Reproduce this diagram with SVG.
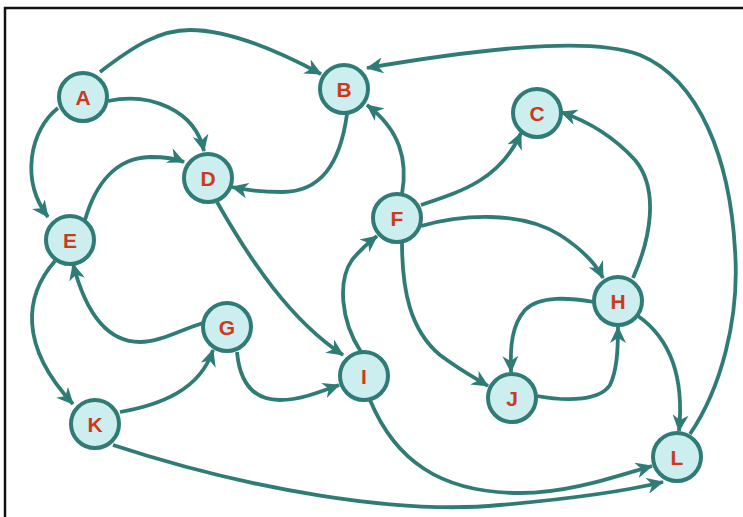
<svg xmlns="http://www.w3.org/2000/svg" width="743" height="517" viewBox="0 0 743 517">
<style>
.e{fill:none;stroke:#2f7c77;stroke-width:3.8;marker-end:url(#ah)}
.n circle{fill:#cdeeee;stroke:#2f7c77;stroke-width:4}
.n text{font-family:"Liberation Sans",Arial,sans-serif;font-weight:bold;font-size:21px;fill:#cc3a1e;text-anchor:middle;dominant-baseline:central}
</style>
<defs>
<marker id="ah" markerUnits="userSpaceOnUse" markerWidth="18" markerHeight="16" refX="16" refY="8" orient="auto">
<path d="M0,0 L17,8 L0,16 L5,8 z" fill="#2f7c77"/>
</marker>
</defs>
<rect x="0" y="0" width="743" height="517" fill="#ffffff"/>
<path d="M5,517 L5,8 L743,8" fill="none" stroke="#111" stroke-width="2.5"/>
<g id="connectors">
<path class="e" d="M100,72 C135,45 160,30 190,30 C230,30 280,52 321,74"/>
<path class="e" d="M108,101 C150,92 195,110 204,151"/>
<path class="e" d="M58,108 C30,130 20,180 48,217"/>
<path class="e" d="M347,114 C340,165 320,192 282,192 C260,192 245,190 232,187"/>
<path class="e" d="M85,220 C95,185 115,158 150,157 C165,157 175,158 184,162"/>
<path class="e" d="M217,202 C250,260 290,320 343,355"/>
<path class="e" d="M203,323 C180,330 160,342 140,342 C105,342 85,310 73,264"/>
<path class="e" d="M55,261 C25,295 18,345 73,404"/>
<path class="e" d="M120,412 C160,405 200,390 213,350"/>
<path class="e" d="M237,352 C240,385 255,400 280,400 C300,400 320,392 339,385"/>
<path class="e" d="M113,445 C250,490 400,515 500,505 C580,498 630,490 663,482"/>
<path class="e" d="M370,400 C395,460 440,493 520,493 C570,493 620,475 652,466"/>
<path class="e" d="M361,352 C340,320 338,280 352,260 C360,250 368,243 377,236"/>
<path class="e" d="M402,194 C408,160 400,130 367,105"/>
<path class="e" d="M421,205 C460,192 500,180 521,133"/>
<path class="e" d="M421,226 C460,215 520,210 560,235 C580,248 595,262 603,278"/>
<path class="e" d="M402,242 C402,290 410,330 440,355 C460,370 475,378 488,386"/>
<path class="e" d="M633,278 C650,240 660,190 635,160 C615,138 590,122 561,112"/>
<path class="e" d="M594,302 C570,298 540,295 525,310 C512,325 510,345 511,372"/>
<path class="e" d="M537,396 C570,402 600,400 610,385 C617,370 618,350 618,327"/>
<path class="e" d="M638,316 C665,335 685,370 679,431"/>
<path class="e" d="M690,434 C720,390 740,320 735,250 C730,160 700,80 640,55 C600,40 520,42 367,68"/>
</g>
<g id="A" class="n"><circle cx="83" cy="97" r="24"/><text x="83" y="97">A</text></g>
<g id="B" class="n"><circle cx="344" cy="89" r="24"/><text x="344" y="89">B</text></g>
<g id="C" class="n"><circle cx="537" cy="113" r="24"/><text x="537" y="113">C</text></g>
<g id="D" class="n"><circle cx="208" cy="178" r="24"/><text x="208" y="178">D</text></g>
<g id="E" class="n"><circle cx="70" cy="240" r="24"/><text x="70" y="240">E</text></g>
<g id="F" class="n"><circle cx="397" cy="218" r="24"/><text x="397" y="218">F</text></g>
<g id="G" class="n"><circle cx="227" cy="327" r="24"/><text x="227" y="327">G</text></g>
<g id="H" class="n"><circle cx="618" cy="301" r="24"/><text x="618" y="301">H</text></g>
<g id="I" class="n"><circle cx="364" cy="376" r="24"/><text x="364" y="376">I</text></g>
<g id="J" class="n"><circle cx="512" cy="398" r="24"/><text x="512" y="398">J</text></g>
<g id="K" class="n"><circle cx="95" cy="424" r="24"/><text x="95" y="424">K</text></g>
<g id="L" class="n"><circle cx="677" cy="457" r="24"/><text x="677" y="457">L</text></g>
</svg>
